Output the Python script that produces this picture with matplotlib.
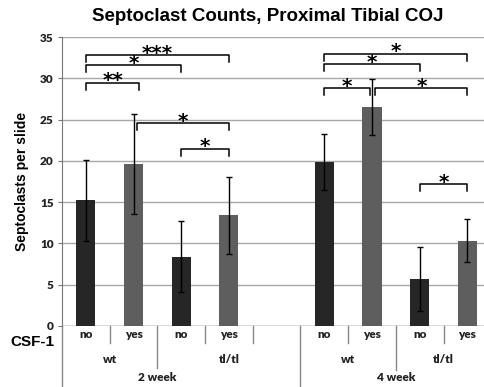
import matplotlib
matplotlib.use('Agg')
import matplotlib.pyplot as plt
import matplotlib.transforms as mtrans

# données
csf1 = ['no', 'yes', 'no', 'yes', 'no', 'yes', 'no', 'yes']
slots = [0, 1, 2, 3, 5, 6, 7, 8]
means = [15.2, 19.6, 8.4, 13.4, 19.9, 26.5, 5.7, 10.3]
errs = [4.9, 6.1, 4.3, 4.7, 3.4, 3.4, 3.9, 2.6]
genotypes = ['wt', 'tl/tl', 'wt', 'tl/tl']
genotype_centers = [1.0, 3.5, 6.0, 8.0]
weeks = ['2 week', '4 week']
week_centers = [2.0, 7.0]
# (barre gauche, barre droite, hauteur, étiquette)
brackets = [
    (0, 3, 32.8, '***'),
    (0, 2, 31.6, '*'),
    (0, 1, 29.5, '**'),
    (1, 3, 24.6, '*'),
    (2, 3, 21.5, '*'),
    (4, 7, 33.0, '*'),
    (4, 6, 31.7, '*'),
    (4, 5, 28.8, '*'),
    (5, 7, 28.8, '*'),
    (6, 7, 17.2, '*'),
]

colors = ['#262626' if c == 'no' else '#5e5e5e' for c in csf1]
small = dict(family='Lato', fontweight='heavy', fontsize=8.5, color='#222222')

fig = plt.figure(figsize=(4.85, 3.87), dpi=100)
ax = fig.add_axes([0.128, 0.158, 0.872, 0.746])

x = [s + 0.5 for s in slots]
ax.bar(x, means, width=0.4, color=colors, zorder=2)
ax.errorbar(x, means, yerr=errs, fmt='none', ecolor='black', elinewidth=1,
            capsize=2, capthick=1, zorder=3)

ax.set_xlim(0, 8.87)
ax.set_ylim(0, 35)
ax.set_yticks(range(0, 36, 5))
ax.set_yticklabels([str(v) for v in range(0, 36, 5)], **small)
ax.yaxis.grid(True, color='#a8a8a8', linewidth=1)
ax.set_axisbelow(True)
ax.set_xticks([])
for s in ['top', 'right', 'bottom']:
    ax.spines[s].set_visible(False)
ax.spines['left'].set_color('#777777')
ax.tick_params(axis='y', length=3, color='#777777', pad=3)
ax.axhline(0, color='#888888', linewidth=1, zorder=1)

# crochets de significativité
for i, j, h, lab in brackets:
    x0, x1 = x[i], x[j]
    if i in (1, 5):
        x0 += 0.07
    if (i, j) == (0, 1):
        x1 += 0.12
    if (i, j) == (4, 5):
        x1 -= 0.04
    ax.plot([x0, x0, x1, x1], [h - 0.85, h, h, h - 0.85], color='black',
            linewidth=1.1, zorder=4)
    ax.text((x0 + x1) / 2, h - 0.45, lab, ha='center', va='baseline',
            fontsize=14.5, fontweight='bold', family='DejaVu Sans')

# axe de catégories à plusieurs niveaux
tr = mtrans.blended_transform_factory(ax.transData, ax.transAxes)
for xi, lab in zip(x, csf1):
    ax.text(xi, -0.03, lab, transform=tr, ha='center', va='center', **small)
for xc, lab in zip(genotype_centers, genotypes):
    ax.text(xc, -0.118, lab, transform=tr, ha='center', va='center', **small)
for xc, lab in zip(week_centers, weeks):
    ax.text(xc, -0.178, lab, transform=tr, ha='center', va='center', **small)

sep = [(1, -0.059), (3, -0.059), (4, -0.059), (6, -0.059), (8, -0.059),
       (2, -0.145), (7, -0.152), (5, -0.215), (0, -0.215)]
for xs, yb in sep:
    ax.plot([xs, xs], [0, yb], transform=tr, color='#888888', linewidth=1,
            clip_on=False)

fig.text(0.067, 0.115, 'CSF-1', ha='center', va='center', family='Liberation Sans',
         fontweight='bold', fontsize=11)
fig.text(0.045, 0.53, 'Septoclasts per slide', rotation=90, ha='center',
         va='center', family='Liberation Sans', fontweight='bold', fontsize=10)
fig.text(0.553, 0.958, 'Septoclast Counts, Proximal Tibial COJ', ha='center',
         va='center', family='Liberation Sans', fontweight='bold', fontsize=13.5)

fig.savefig('out.png', dpi=100)
